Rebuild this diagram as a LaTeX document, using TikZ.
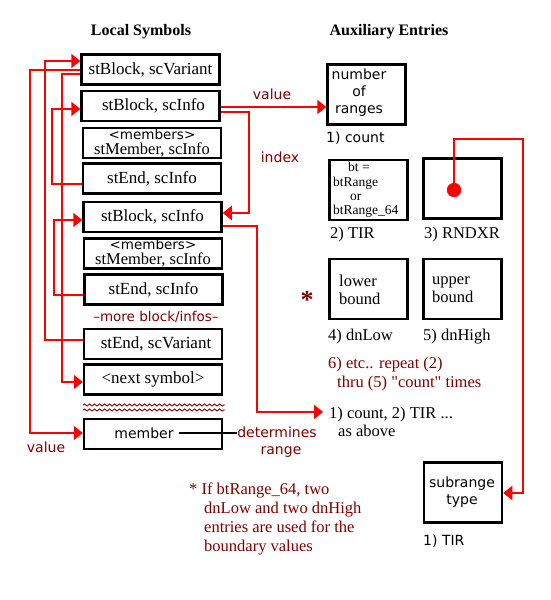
\documentclass[tikz,border=0pt]{standalone}
\usepackage{fontspec}
\setmainfont{Liberation Serif}[Ligatures=TeXOff]
\setsansfont{DejaVu Sans}
\usetikzlibrary{arrows.meta,decorations.pathmorphing}
\definecolor{mred}{HTML}{800000}
\definecolor{lred}{HTML}{FF0000}
\tikzset{
  lbox/.style={draw, line width=2.5pt, minimum width=138pt, minimum height=30pt, inner sep=0pt, align=center, font=\fontsize{17}{15}\selectfont},
  rbox/.style={draw, line width=2.5pt, minimum width=78pt, minimum height=60pt, inner sep=0pt},
  conn/.style={draw=lred, line width=2.5pt},
  arr/.style={conn, -{Triangle[length=9pt,width=14pt]}},
  lab/.style={text=mred, inner sep=0pt, font=\sffamily\fontsize{14}{17}\selectfont},
  sanstxt/.style={inner sep=0pt, font=\sffamily\fontsize{14}{17}\selectfont},
  sertxt/.style={inner sep=0pt, font=\fontsize{16.5}{18}\selectfont},
  note/.style={text=mred, inner sep=0pt, align=left, font=\fontsize{16.5}{19}\selectfont},
  title/.style={inner sep=0pt, font=\bfseries\fontsize{16}{16}\selectfont},
  wavy/.style={draw=mred, line width=0.9pt, decorate, decoration={snake, segment length=5pt, amplitude=1pt}}
}
\begin{document}
\begin{tikzpicture}[x=1pt,y=-1pt]
\useasboundingbox (0,0) rectangle (550,600);
\fill[white] (0,0) rectangle (550,600);

% titles
\node[title] (t1) at (141,32) {Local Symbols};
\node[title] (t2) at (389,32) {Auxiliary Entries};

% left column
\node[lbox] (b1) at (150.5,69.5) {stBlock, scVariant};
\node[lbox] (b2) at (150.5,106) {\hspace*{6pt}stBlock, scInfo};
\node[lbox] (b3) at (152,143) {{\sffamily\fontsize{13.5}{13.5}\selectfont <members>}\\{\fontsize{16.5}{15}\selectfont stMember, scInfo}};
\node[lbox] (b4) at (152,178.5) {stEnd, scInfo};
\node[lbox] (b5) at (152.5,217) {stBlock, scInfo};
\node[lbox] (b6) at (153,253.5) {{\sffamily\fontsize{13.5}{13.5}\selectfont <members>}\\{\fontsize{16.5}{15}\selectfont stMember, scInfo}};
\node[lbox] (b7) at (153.5,289.5) {stEnd, scInfo};
\node[lab, font=\sffamily\fontsize{13.5}{14}\selectfont] (more) at (156,317) {–more block/infos–};
\node[lbox] (b8) at (153,344) {\hspace*{6pt}stEnd, scVariant};
\node[lbox] (b9) at (153,379.5) {<next symbol>};
\draw[wavy] (83,405) -- (225,405);
\draw[wavy] (83,410) -- (225,410);
\node[lbox] (b10) at (153,434) {};
\node[sanstxt] (mtx) at (144,433) {member};
\node[lab, align=center] (det) at (277,442) {determines\\\hspace*{8pt}range};
\draw[line width=1.2pt] (mtx.east) ++(5pt,0) -- (det.west |- 0,433);

% left connectors
\draw[arr] (b1.west |- 0,70) -| (30,433) -- (b10.west |- 0,433);
\node[lab] (v1) at (46,447) {value};
\draw[arr] (b8.west |- 0,340) -| (45,61) -- (b1.west |- 0,61);
\draw[arr] (b1.west |- 0,74) -| (62,382) -- (b9.west |- 0,382);
\draw[arr] (b4.west |- 0,184) -| (52,109) -- (b2.west |- 0,109);
\draw[arr] (b7.west |- 0,295) -| (54,220) -- (b5.west |- 0,220);

% right boxes
\node[rbox] (cnt) at (366.5,94.5) {};
\node[sanstxt, align=center] (cnttx) at (359,93) {number\\of\\ranges};
\node[sanstxt, anchor=west] (l1) at (326,138) {1) count};

\node[rbox] (tir) at (368.5,190) {};
\node[inner sep=0pt, align=left, anchor=west, font=\fontsize{13.5}{14.3}\selectfont] (tirtx) at (333,190) {\hspace*{15pt}bt =\\btRange\\\hspace*{17pt}or\\btRange\_64};
\node[sertxt, anchor=west] (l2) at (330,235) {2) TIR};

\node[rbox] (rnd) at (462.5,188.5) {};
\node[sertxt, anchor=west] (l3) at (424,235) {3) RNDXR};

\node[rbox] (low) at (368.5,289) {};
\node[sertxt, align=left, anchor=west] (lowtx) at (339,290) {lower\\bound};
\node[sertxt, anchor=west] (l4) at (328,337) {4) dnLow};
\node[rbox] (up) at (462.5,289) {};
\node[sertxt, align=left, anchor=west] (uptx) at (432,290) {upper\\bound};
\node[sertxt, anchor=west] (l5) at (423,337) {5) dnHigh};
\node[text=mred, inner sep=0pt, font=\bfseries\fontsize{26}{26}\selectfont] (ast) at (307,300) {*};

\node[note, anchor=west] (etc) at (328,374.5) {6) etc.. repeat (2)\\\hspace*{9pt}thru (5) "count" times};
\node[sertxt, align=left, anchor=west] (again) at (329,421.5) {1) count, 2) TIR ...\\\hspace*{9pt}as above};

\node[rbox] (sub) at (463,492.5) {};
\node[sanstxt, align=center] (subtx) at (462,492) {subrange\\type};
\node[sanstxt, anchor=west] (l6) at (423,541) {1) TIR};

\node[note, anchor=west] (foot) at (189,518.5) {* If btRange\_64, two\\\hspace*{15pt}dnLow and two dnHigh\\\hspace*{15pt}entries are used for the\\\hspace*{15pt}boundary values};

% right connectors
\draw[arr] (b2.east |- 0,107) -- (cnt.west |- 0,107);
\node[lab] (v2) at (272,94) {value};
\draw[arr] (b2.east |- 0,112) -| (249,213) -- (b5.east |- 0,213);
\node[lab] (idx) at (280,157) {index};
\draw[arr] (b5.east |- 0,226) -| (257,412) -- ([xshift=-6pt]again.west |- 0,412);

\node[circle, fill=lred, minimum size=14pt, inner sep=0pt] (dot) at (454,190) {};
\draw[arr] (dot.center) |- (523,139) |- (sub.east |- 0,493);
\fill[lred] (dot) circle (7pt);
\end{tikzpicture}
\end{document}
